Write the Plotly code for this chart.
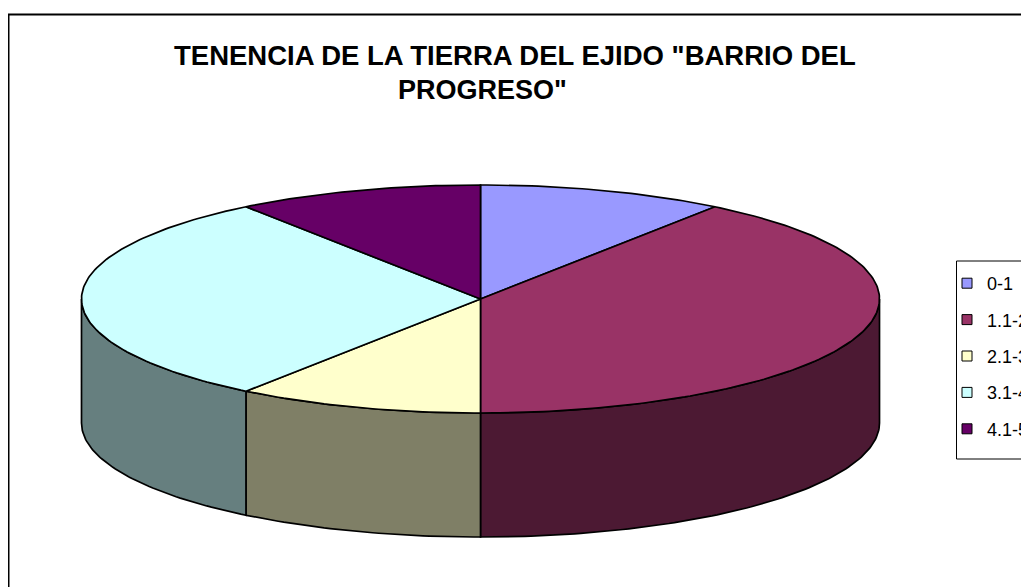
import numpy as np
import plotly.graph_objects as go

# ---- data ----
labels = ["0-1", "1.1-2", "2.1-3", "3.1-4", "4.1-5"]
values = [10, 40, 10, 30, 10]
colors = ["#9999FF", "#993366", "#FFFFCC", "#CCFFFF", "#660066"]
title_lines = ['TENENCIA DE LA TIERRA DEL EJIDO "BARRIO DEL', 'PROGRESO"']

# ---- style / geometry (screen pixels; page body adds an 8px offset) ----
OFF = 8
W, H = 1029 - OFF, 587 - OFF
SCALE = 399.0                  # px per unit radius
CX, CY = 480.5 - OFF, 299.0 - OFF  # pie centre in figure px
TILT = 114 / SCALE             # vertical semi-axis of top ellipse
DEPTH = 124 / SCALE            # thickness of the pie
FONT = "Liberation Sans, Arial, sans-serif"


def px(x):
    return (x - OFF) / W


def py(y):
    return 1 - (y - OFF) / H


def darker(hexc, f=0.5):
    h = hexc.lstrip("#")
    r, g, b = (int(h[i:i + 2], 16) for i in (0, 2, 4))
    return "rgb(%d,%d,%d)" % (r * f, g * f, b * f)


def arc(t0, t1):
    n = max(int((t1 - t0) / (2 * np.pi) * 400), 4)
    t = np.linspace(t0, t1, n)
    return np.sin(t), TILT * np.cos(t)


total = float(sum(values))
bounds = np.concatenate([[0.0], np.cumsum(values)]) / total * 2 * np.pi

fig = go.Figure()

# side walls (front half only)
for i in range(len(values)):
    s0 = max(bounds[i], np.pi / 2)
    s1 = min(bounds[i + 1], 3 * np.pi / 2)
    if s1 > s0:
        x, y = arc(s0, s1)
        xs = np.concatenate([x, x[::-1], [x[0]]])
        ys = np.concatenate([y, y[::-1] - DEPTH, [y[0]]])
        fig.add_trace(go.Scatter(x=xs, y=ys, mode="lines", fill="toself",
                                 fillcolor=darker(colors[i]),
                                 line=dict(color="black", width=1.7),
                                 showlegend=False, hoverinfo="skip"))

# top faces
for i in range(len(values)):
    x, y = arc(bounds[i], bounds[i + 1])
    xs = np.concatenate([[0], x, [0]])
    ys = np.concatenate([[0], y, [0]])
    fig.add_trace(go.Scatter(x=xs, y=ys, mode="lines", fill="toself",
                             fillcolor=colors[i],
                             line=dict(color="black", width=1.7),
                             showlegend=False, name=labels[i],
                             hovertemplate="%s: %s<extra></extra>" % (labels[i], values[i])))

# legend entries
for i in range(len(values)):
    fig.add_trace(go.Scatter(x=[None], y=[None], mode="markers", name=labels[i],
                             legendgroup=labels[i],
                             marker=dict(symbol="square", size=10, color=colors[i],
                                         line=dict(color="black", width=1))))

fig.update_xaxes(visible=False, range=[-CX / SCALE, (W - CX) / SCALE], fixedrange=True)
fig.update_yaxes(visible=False, range=[-(H - CY) / SCALE, CY / SCALE], fixedrange=True)

fig.add_annotation(text="<b>%s</b>" % title_lines[0], x=px(515), y=py(56),
                   xref="paper", yref="paper", xanchor="center", yanchor="middle",
                   showarrow=False, font=dict(family=FONT, size=27.5, color="black"))
fig.add_annotation(text="<b>%s</b>" % title_lines[1], x=px(482), y=py(90),
                   xref="paper", yref="paper", xanchor="center", yanchor="middle",
                   showarrow=False, font=dict(family=FONT, size=27, color="black"))

# chart area border and legend box
fig.add_shape(type="rect", xref="paper", yref="paper", x0=px(8.5), x1=1.2,
              y0=-0.2, y1=py(14.5), line=dict(color="black", width=2), layer="below")
fig.add_shape(type="rect", xref="paper", yref="paper", x0=px(956.5), x1=1.2,
              y0=py(459), y1=py(261), line=dict(color="black", width=1),
              fillcolor="white", layer="below")

fig.update_layout(
    width=W, height=H,
    margin=dict(l=0, r=0, t=0, b=0, autoexpand=False),
    paper_bgcolor="white", plot_bgcolor="white",
    showlegend=True,
    legend=dict(x=px(947), y=py(265), xanchor="left", yanchor="top",
                bgcolor="rgba(0,0,0,0)", borderwidth=0,
                font=dict(family=FONT, size=18, color="black"),
                tracegroupgap=10, itemwidth=30),
    hovermode="closest",
)

fig.write_html("out.html")
